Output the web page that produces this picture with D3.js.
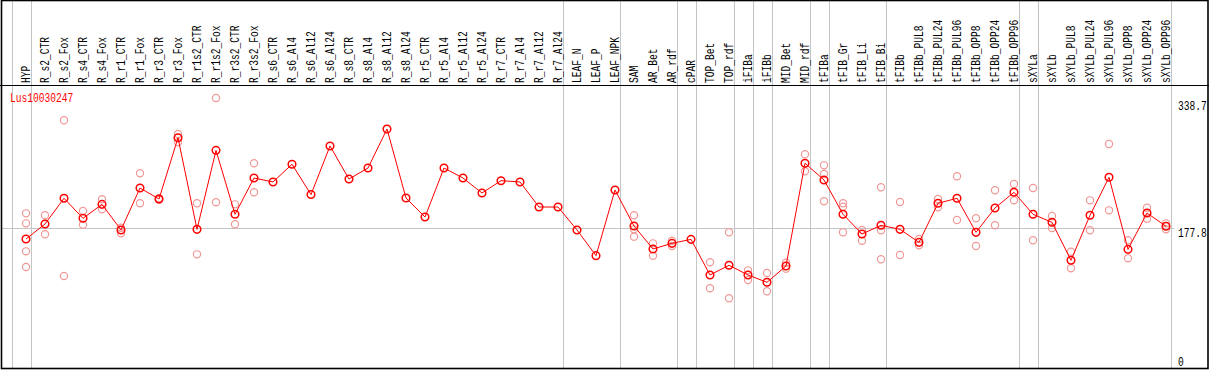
<!DOCTYPE html>
<html><head><meta charset="utf-8">
<script src="https://cdn.jsdelivr.net/npm/d3@7"></script>
<style>
body{margin:0;background:#fff;}
svg{display:block;}
text{font-family:"Liberation Mono",monospace;font-size:12px;}
</style></head>
<body><svg id="c" width="1209" height="370"></svg>
<script>
const title = "Lus10030247";
const categories = ["HYP","R_s2_CTR","R_s2_Fox","R_s4_CTR","R_s4_Fox","R_r1_CTR","R_r1_Fox","R_r3_CTR","R_r3_Fox","R_r1s2_CTR","R_r1s2_Fox","R_r3s2_CTR","R_r3s2_Fox","R_s6_CTR","R_s6_Al4","R_s6_Al12","R_s6_Al24","R_s8_CTR","R_s8_Al4","R_s8_Al12","R_s8_Al24","R_r5_CTR","R_r5_Al4","R_r5_Al12","R_r5_Al24","R_r7_CTR","R_r7_Al4","R_r7_Al12","R_r7_Al24","LEAF_N","LEAF_P","LEAF_NPK","SAM","AR_Bet","AR_rdf","cPAR","TOP_Bet","TOP_rdf","iFIBa","iFIBb","MID_Bet","MID_rdf","tFIBa","tFIB_Gr","tFIB_Li","tFIB_Bi","tFIBb","tFIBb_PUL8","tFIBb_PUL24","tFIBb_PUL96","tFIBb_OPP8","tFIBb_OPP24","tFIBb_OPP96","sXYLa","sXYLb","sXYLb_PUL8","sXYLb_PUL24","sXYLb_PUL96","sXYLb_OPP8","sXYLb_OPP24","sXYLb_OPP96"];
const means = [163.6,182.7,215.3,189.9,207.6,175.1,228.3,214.4,292.1,175.9,276.1,195.0,241.0,236.0,258.4,220.0,281.6,239.7,253.7,303.2,215.6,191.5,253.7,241.0,222.0,237.6,236.0,204.2,204.2,175.1,142.5,225.8,180.1,151.0,158.1,163.2,118.0,130.3,118.0,108.7,129.4,259.7,238.5,195.0,170.0,181.0,175.9,159.4,208.9,215.3,172.1,203.0,222.9,195.0,184.8,136.6,193.7,241.9,150.5,196.6,179.8];
const replicates = [
 [196.2,183.5,148.0,128.1],[193.7,169.6],[314.2,116.7],[199.2,181.8],[214.0,201.3],[178.0,170.8],[247.0,208.9],[215.3,213.5],[296.8,286.3],[208.9,144.2],[342.5,210.2],[207.6,182.3],[259.7,222.9],
 [],[],[],[],[],[],[],[],[],[],[],[],[],[],[],[],[],[],[],
 [193.7,175.9,166.6],[158.1,142.5],[161.5,154.8],[],[134.1,101.1],[172.1,88.4],[123.9,111.6],[120.5,97.3],[133.6,126.0],[271.1,249.5],[257.1,246.1,211.5],[208.9,204.6,172.1],[175.1,161.5],[229.2,174.7,137.9],[210.6,143.3],[163.6,155.6],[214.4,203.8],[243.2,187.7],[189.9,154.8],[225.4,181.0],[233.4,212.7],[228.3,162.0],[192.8,177.6],[147.5,126.5],[212.7,174.7],[284.1,200.0],[162.0,139.1],[203.3,189.4],[183.5,175.9]
];
const groupEnds = [-1,0,28,31,34,35,37,38,39,41,42,45,52,53,60];
const yTicks = [338.7,177.8,0];
const refLine = 177.8;

const svg = d3.select("#c");
const x = d3.scaleLinear().domain([0, categories.length-1]).range([26, 26+19*(categories.length-1)]);
const y = d3.scaleLinear().domain([0, 338.7]).range([368, 101]);
const sx = 0.8;

// group separator lines
svg.append("g").selectAll("line").data(groupEnds).join("line")
  .attr("x1", d=>Math.round(x(d))+5.5).attr("x2", d=>Math.round(x(d))+5.5)
  .attr("y1",0).attr("y2",369).attr("stroke","#c4c4c4").attr("stroke-width",1);

// reference horizontal line
svg.append("line").attr("x1",2).attr("x2",1174)
  .attr("y1",Math.round(y(refLine))+0.5).attr("y2",Math.round(y(refLine))+0.5)
  .attr("stroke","#c4c4c4").attr("stroke-width",1);

// frame
svg.append("rect").attr("x",1.5).attr("y",0.5).attr("width",1206.5).attr("height",368)
  .attr("fill","none").attr("stroke","#000").attr("stroke-width",1.6);
svg.append("line").attr("x1",0).attr("x2",1209).attr("y1",85.5).attr("y2",85.5).attr("stroke","#000").attr("stroke-width",1.2);

// category labels
svg.append("g").selectAll("text").data(categories).join("text")
  .attr("transform",(d,i)=>`translate(${x(i)+4},83) rotate(-90) scale(${sx},1)`)
  .attr("fill","#000").text(d=>d);

// y labels
svg.append("g").selectAll("text").data(yTicks).join("text")
  .attr("transform",d=>`translate(1178,${d===0 ? 366 : y(d)+9}) scale(${sx},1)`)
  .attr("fill","#000").text(d=>d===0?"0":d.toFixed(1));

// title
svg.append("text").attr("transform",`translate(10,102) scale(${sx},1)`)
  .attr("fill","#ff0000").text(title);

// replicates
const repData = [];
replicates.forEach((arr,i)=>arr.forEach(v=>repData.push({i,v})));
svg.append("g").selectAll("circle").data(repData).join("circle")
  .attr("cx",d=>x(d.i)).attr("cy",d=>y(d.v)).attr("r",3.6)
  .attr("fill","none").attr("stroke","#f09898").attr("stroke-width",1.2);

// mean line
svg.append("path").datum(means)
  .attr("d", d3.line().x((d,i)=>x(i)).y(d=>y(d)))
  .attr("fill","none").attr("stroke","#ff0000").attr("stroke-width",1);

svg.append("g").selectAll("circle").data(means).join("circle")
  .attr("cx",(d,i)=>x(i)).attr("cy",d=>y(d)).attr("r",3.8)
  .attr("fill","none").attr("stroke","#ff0000").attr("stroke-width",1.5);
</script></body></html>
